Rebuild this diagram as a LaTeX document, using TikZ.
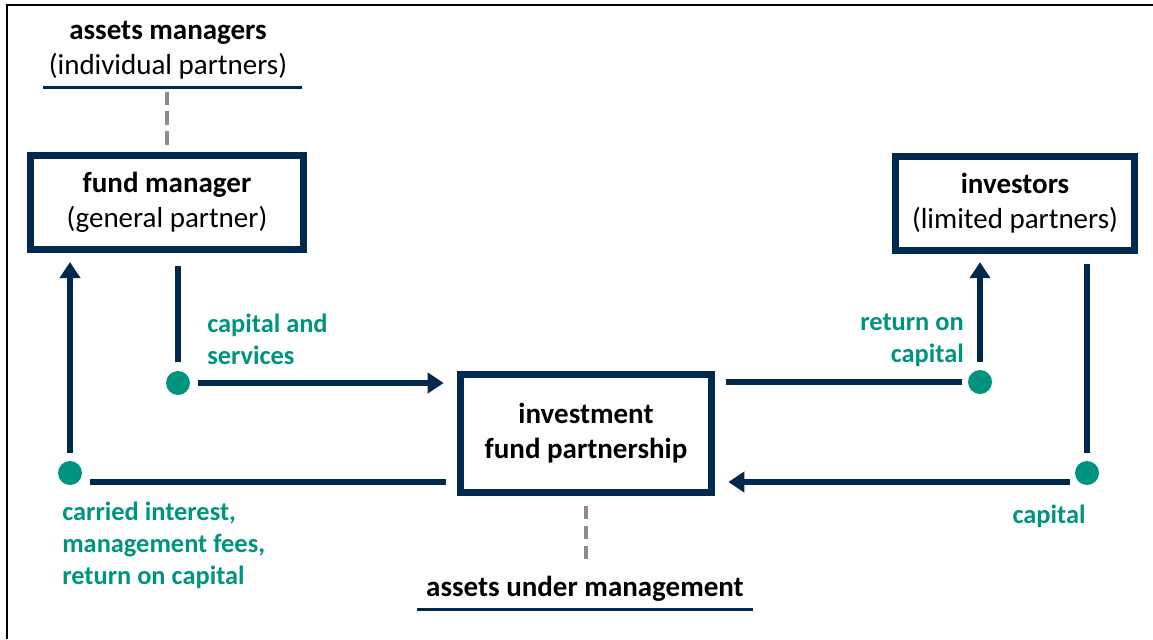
\documentclass[tikz,border=0pt]{standalone}
\usepackage{fontspec}
\setmainfont{Carlito}
\usetikzlibrary{positioning, arrows.meta}
\definecolor{navy}{RGB}{0,42,77}
\definecolor{fundteal}{RGB}{0,148,128}
\definecolor{dashgray}{RGB}{140,140,140}

\begin{document}
\begin{tikzpicture}[x=0.75pt, y=-0.75pt,
    party/.style={draw=navy, line width=5.25pt, minimum height=70.5pt, align=center, inner sep=0pt, font=\fontsize{21.75}{26.25}\selectfont},
    flowdot/.style={circle, fill=fundteal, minimum size=18pt, inner sep=0pt},
    flow/.style={draw=navy, line width=4.5pt},
    flowarrow/.style={flow, -{Triangle[length=12pt, width=15pt]}},
    flowlabel/.style={text=fundteal, inner sep=0pt, font=\bfseries\fontsize{19.8}{24}\selectfont},
    dashline/.style={draw=dashgray, line width=3pt, dash pattern=on 10pt off 5pt},
    labelline/.style={draw=navy, line width=2.25pt}]
    \useasboundingbox (0,0) rectangle (1153,639);

    % Rahmen
    \draw[black, line width=1.5pt] (7,639) -- (7,5) -- (1153,5);

    % Parteien
    \node[party, minimum width=204.75pt] (fm) at (167,202.5) {\textbf{fund manager}\\(general partner)};
    \node[party, minimum width=179.25pt] (inv) at (1015,203) {\textbf{investors}\\(limited partners)};
    \node[party, minimum width=188.25pt, minimum height=88.5pt] (ifp) at (586,433.5) {\textbf{investment}\\\textbf{fund partnership}};

    % Beschriftungen oben und unten
    \node[align=center, inner sep=0pt, font=\fontsize{21.75}{26.25}\selectfont] (am) at (168,50) {\textbf{assets managers}\\(individual partners)};
    \node[inner sep=0pt, font=\bfseries\fontsize{21.75}{26.25}\selectfont] (aum) at (585,589) {assets under management};
    \draw[labelline] (43,87) -- (302,87);
    \draw[labelline] (417,609) -- (753,609);

    % gestrichelte Linien
    \draw[dashline] (fm.north) ++(0,-7.5) -- ++(0,-53);
    \draw[dashline] (ifp.south) ++(0,9.5) -- ++(0,53);

    % Punkte
    \node[flowdot] (dcs) at (178,383) {};
    \node[flowdot] (dci) at (70,473) {};
    \node[flowdot] (drc) at (980,382) {};
    \node[flowdot] (dcap) at (1087,473) {};
    \coordinate (low) at (0,482);

    % Flüsse links
    \draw[flow, shorten <=9.75pt, shorten >=6.75pt] (fm.south -| dcs) -- (dcs);
    \draw[flowarrow, shorten <=6pt, shorten >=10pt] (dcs) -- (dcs -| ifp.west);
    \draw[flow, shorten <=8pt, shorten >=6pt] (ifp.west |- low) -- (dci.east |- low);
    \draw[flowarrow, shorten <=6pt, shorten >=6.75pt] (dci) -- (dci |- fm.south);

    % Flüsse rechts
    \draw[flow, shorten <=8pt, shorten >=4.5pt] (ifp.east |- drc) -- (drc);
    \draw[flowarrow, shorten <=6pt, shorten >=6.5pt] (drc) -- (drc |- inv.south);
    \draw[flow, shorten <=8pt, shorten >=6pt] (inv.south -| dcap) -- (dcap);
    \draw[flowarrow, shorten <=3.75pt, shorten >=10pt] (dcap.west |- low) -- (ifp.east |- low);

    % Flussbeschriftungen
    \node[flowlabel, anchor=west, align=left] (lcs) at (207,339) {capital and\\services};
    \node[flowlabel, anchor=east, align=right] (lrc) at (964,340) {return on\\capital};
    \node[flowlabel] (lcap) at (1049,516) {capital};
    \node[flowlabel, anchor=west, align=left] (lci) at (62,545) {carried interest,\\management fees,\\return on capital};
  \end{tikzpicture}
\end{document}
